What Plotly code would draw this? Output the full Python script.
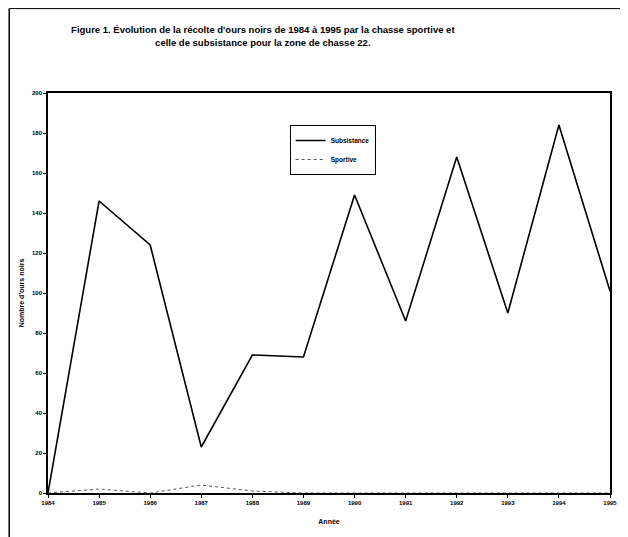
import plotly.graph_objects as go

years = [1984, 1985, 1986, 1987, 1988, 1989, 1990, 1991, 1992, 1993, 1994, 1995]
subsistance = [0, 146, 124, 23, 69, 68, 149, 86, 168, 90, 184, 101]
sportive = [0, 2, 0, 4, 1, 0, 0, 0, 0, 0, 0, 0]
y_ticks = list(range(0, 201, 20))

title_text = ("Figure 1. Évolution de la récolte d'ours noirs de 1984 à 1995 par la chasse sportive et<br>"
              "celle de subsistance pour la zone de chasse 22.")

font_fam = "Liberation Sans Narrow, Liberation Sans, Arial"

fig = go.Figure()
fig.add_trace(go.Scatter(
    x=years, y=subsistance, name="<b>Subsistance</b>", mode="lines",
    line=dict(color="black", width=1.6)))
fig.add_trace(go.Scatter(
    x=years, y=sportive, name="<b>Sportive</b>", mode="lines",
    line=dict(color="#555555", width=1, dash="dot")))

# page body has an 8px margin, so the figure is a bit smaller than the window
fig.update_layout(
    width=620, height=529,
    paper_bgcolor="white", plot_bgcolor="white",
    margin=dict(l=40, r=11, t=85, b=44),
    font=dict(family=font_fam, color="black", size=6),
    title=dict(text="<b>" + title_text + "</b>", x=0.411, xanchor="center",
               y=0.952, yanchor="top",
               font=dict(family=font_fam, size=9.5, color="black")),
    showlegend=True,
    legend=dict(x=0.43, y=0.92, xanchor="left", yanchor="top",
                bgcolor="white", bordercolor="black", borderwidth=1,
                font=dict(size=6.5, family=font_fam), tracegroupgap=8,
                itemwidth=30),
    xaxis=dict(
        range=[1984, 1995], tickmode="array", tickvals=years,
        ticktext=[str(y) for y in years],
        showgrid=False, zeroline=False,
        showline=True, linecolor="black", linewidth=1.5, mirror=True,
        ticks="outside", ticklen=3, tickcolor="black",
        tickfont=dict(size=6, family=font_fam, weight="bold"),
        title=dict(text="<b>Année</b>", font=dict(size=7, family=font_fam), standoff=14)),
    yaxis=dict(
        range=[0, 200], tickmode="array", tickvals=y_ticks,
        showgrid=False, zeroline=False,
        showline=True, linecolor="black", linewidth=1.5, mirror=True,
        ticks="outside", ticklen=3, tickcolor="black",
        tickfont=dict(size=6, family=font_fam, weight="bold"),
        title=dict(text="<b>Nombre d'ours noirs</b>", font=dict(size=7, family=font_fam), standoff=7)),
)

# scanned page frame
fig.add_shape(type="line", xref="paper", yref="paper", x0=-0.069, x1=-0.069, y0=-0.11, y1=1.211,
              line=dict(color="black", width=1.5))
fig.add_shape(type="line", xref="paper", yref="paper", x0=-0.069, x1=1.02, y0=1.211, y1=1.211,
              line=dict(color="black", width=1))

fig.write_html("out.html")
